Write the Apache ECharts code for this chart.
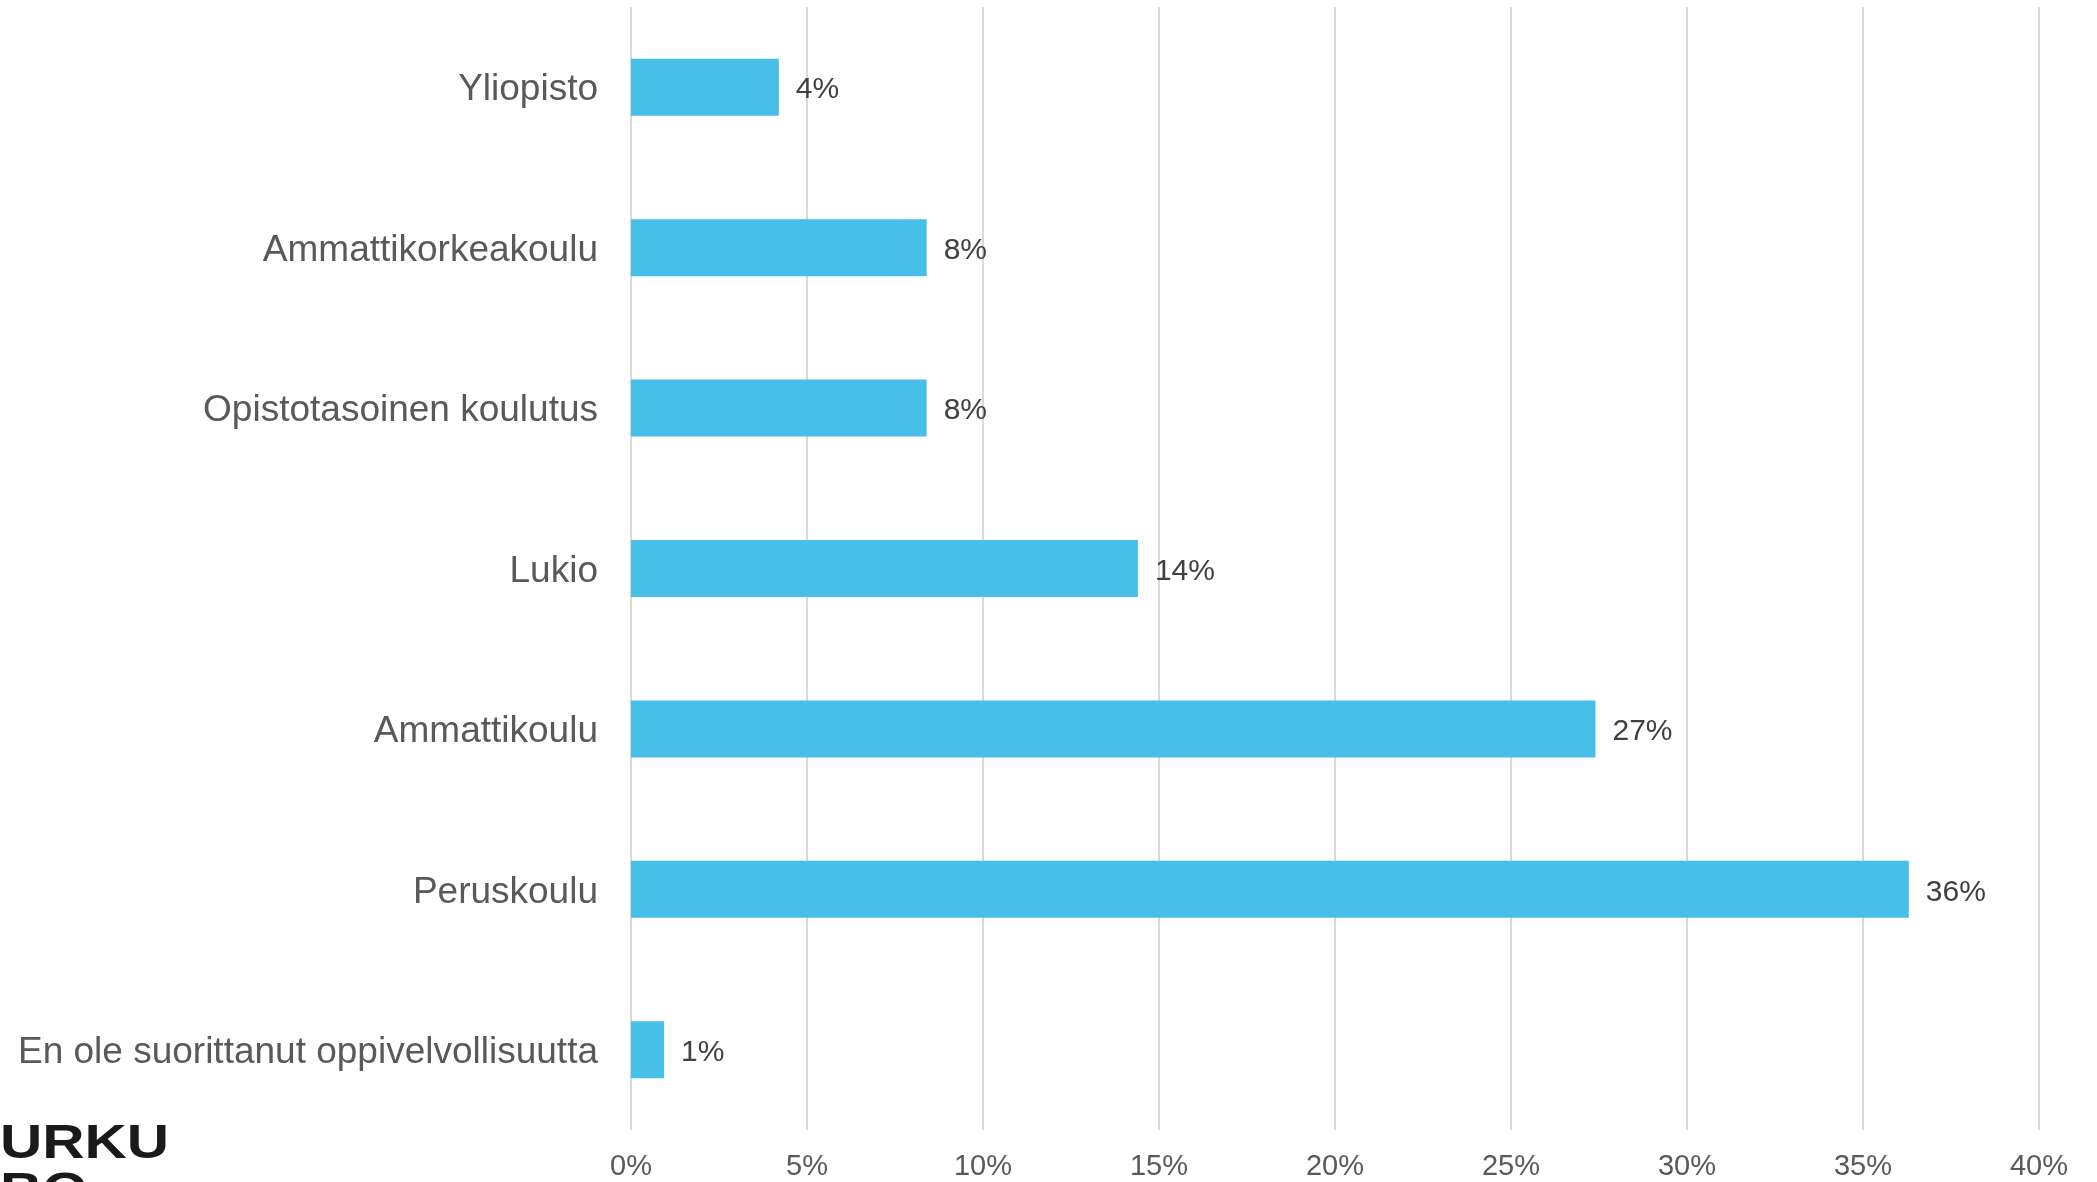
<!DOCTYPE html>
<html lang="fi">
<head>
    <meta charset="UTF-8">
    <title>Koulutustaso</title>
    <script src="https://cdn.jsdelivr.net/npm/echarts@6/dist/echarts.min.js"></script>
    <style>
        html, body { margin: 0; padding: 0; background: #fff; }
        #main { width: 2097px; height: 1182px; }
    </style>
</head>
<body>
<div id="main"></div>
<script type="text/javascript">
    // bottom-to-top order (category axis starts at the bottom)
    var categories = [
        'En ole suorittanut oppivelvollisuutta',
        'Peruskoulu',
        'Ammattikoulu',
        'Lukio',
        'Opistotasoinen koulutus',
        'Ammattikorkeakoulu',
        'Yliopisto'
    ];
    var shares = [0.94, 36.3, 27.4, 14.4, 8.4, 8.4, 4.2];
    var tickLabels = ['0%', '5%', '10%', '15%', '20%', '25%', '30%', '35%', '40%'];

    var myChart = echarts.init(document.getElementById('main'));
    var option = {
        backgroundColor: '#fff',
        animation: false,
        textStyle: { fontFamily: 'Liberation Sans, Arial, sans-serif' },
        grid: {
            left: 631,
            right: 58,
            top: 7,
            bottom: 52,
            containLabel: false
        },
        xAxis: {
            type: 'value',
            min: 0,
            max: 40,
            interval: 5,
            axisLine: { show: false },
            axisTick: { show: false },
            splitLine: { show: true, lineStyle: { color: '#d9d9d9', width: 2 } },
            axisLabel: {
                color: '#595959',
                fontSize: 29,
                margin: 22,
                formatter: function (v) { return tickLabels[v / 5]; }
            }
        },
        yAxis: {
            type: 'category',
            data: categories,
            axisLine: { show: false },
            axisTick: { show: false },
            axisLabel: {
                margin: 33,
                formatter: function (v) { return '{c|' + v + '}'; },
                rich: {
                    c: {
                        color: '#595959',
                        fontSize: 37,
                        padding: [6, 0, 0, 0]
                    }
                }
            }
        },
        graphic: [
            {
                type: 'text',
                left: 0,
                top: 1121,
                scaleX: 1.22,
                style: {
                    text: 'URKU\nBO',
                    font: 'bold 48px Liberation Sans, Arial, sans-serif',
                    fill: '#1a1a1a',
                    lineHeight: 48
                }
            }
        ],
        series: [
            {
                type: 'bar',
                data: shares,
                barWidth: 57,
                itemStyle: { color: '#47bfe9' },
                label: {
                    show: true,
                    position: 'right',
                    distance: 17,
                    offset: [0, 3],
                    color: '#404040',
                    fontSize: 30,
                    formatter: function (p) { return Math.round(p.value) + '%'; }
                }
            }
        ]
    };
    myChart.setOption(option);
</script>
</body>
</html>
